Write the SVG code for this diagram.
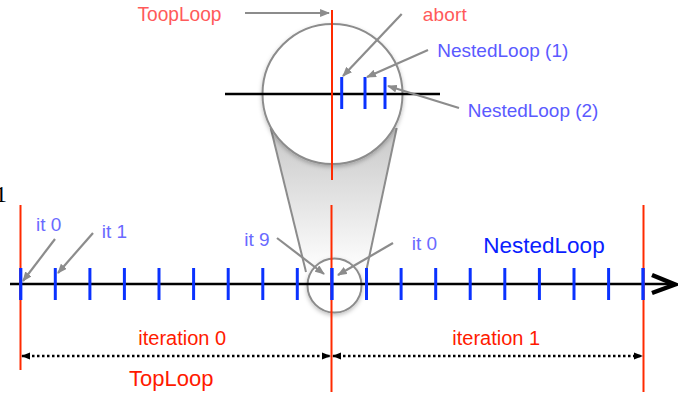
<svg xmlns="http://www.w3.org/2000/svg" width="678" height="394" viewBox="0 0 678 394">
<style>
  .red { stroke: #ff2a00; stroke-width: 2; fill: none; }
  .tick { stroke: #0a32ff; stroke-width: 3; }
  .axis { stroke: #000; stroke-width: 2.5; fill: none; }
  .garrow { stroke: #8c8c8c; stroke-width: 2.2; fill: none; marker-end: url(#gh); }
  .darrow { stroke: #000; stroke-width: 2.5; stroke-dasharray: 2.5 2.5; fill: none; marker-start: url(#bh); marker-end: url(#bh); }
  .lbl { font-family: "Liberation Sans", Arial, sans-serif; }
  .lr { fill: #ff5a5a; font-size: 19px; }
  .lb { fill: #5a5aff; font-size: 19px; }
  .it { fill: #6a6aff; font-size: 19px; }
  .big-red { fill: #ff1a00; font-size: 20px; }
</style>
<defs>
  <marker id="gh" viewBox="0 0 10 8" refX="9" refY="4" markerWidth="4.5" markerHeight="3.6" orient="auto" markerUnits="strokeWidth">
    <path d="M0,0 L10,4 L0,8 z" fill="#8c8c8c"/>
  </marker>
  <marker id="bh" viewBox="0 0 10 8" refX="9" refY="4" markerWidth="3.6" markerHeight="3.0" orient="auto-start-reverse" markerUnits="strokeWidth">
    <path d="M0,0 L10,4 L0,8 z" fill="#000"/>
  </marker>
  <linearGradient id="cone" x1="0" y1="0" x2="0" y2="1">
    <stop offset="0" stop-color="#c8c8c8"/>
    <stop offset="1" stop-color="#ffffff"/>
  </linearGradient>
  <filter id="sh" x="-20%" y="-20%" width="140%" height="140%">
    <feDropShadow dx="0" dy="2" stdDeviation="2" flood-color="#000" flood-opacity="0.25"/>
  </filter>
</defs>

<rect width="678" height="394" fill="#fff"/>

<text x="-5" y="201.5" style="font-family:'Liberation Serif',serif;font-size:24px;fill:#000">1</text>

<g id="magnifier">
  <path d="M270.7,128 L306,272 L366,272 L396.7,128 Z" fill="url(#cone)"/>
  <line x1="270.7" y1="128" x2="306" y2="272" stroke="#8c8c8c" stroke-width="2"/>
  <line x1="396.7" y1="128" x2="366" y2="272" stroke="#8c8c8c" stroke-width="2"/>
</g>

<g id="small-circle">
  <circle cx="334.5" cy="285.5" r="27" fill="#fff" stroke="#8c8c8c" stroke-width="2" filter="url(#sh)"/>
</g>

<g id="timeline">
  <line class="axis" x1="10" y1="284" x2="674" y2="284"/>
  <polyline points="652,275 675,284.5 652,293" fill="none" stroke="#000" stroke-width="4.5" stroke-linejoin="miter"/>
  <g class="tick">
    <line x1="20.7" y1="268" x2="20.7" y2="300"/>
    <line x1="55.3" y1="268" x2="55.3" y2="300"/>
    <line x1="89.9" y1="268" x2="89.9" y2="300"/>
    <line x1="124.4" y1="268" x2="124.4" y2="300"/>
    <line x1="159" y1="268" x2="159" y2="300"/>
    <line x1="193.6" y1="268" x2="193.6" y2="300"/>
    <line x1="228.2" y1="268" x2="228.2" y2="300"/>
    <line x1="262.8" y1="268" x2="262.8" y2="300"/>
    <line x1="297.3" y1="268" x2="297.3" y2="300"/>
    <line x1="331.9" y1="268" x2="331.9" y2="300"/>
    <line x1="366.5" y1="268" x2="366.5" y2="300"/>
    <line x1="401.1" y1="268" x2="401.1" y2="300"/>
    <line x1="435.7" y1="268" x2="435.7" y2="300"/>
    <line x1="470.2" y1="268" x2="470.2" y2="300"/>
    <line x1="504.8" y1="268" x2="504.8" y2="300"/>
    <line x1="539.4" y1="268" x2="539.4" y2="300"/>
    <line x1="574" y1="268" x2="574" y2="300"/>
    <line x1="608.6" y1="268" x2="608.6" y2="300"/>
    <line x1="643.1" y1="268" x2="643.1" y2="300"/>
  </g>
</g>

<g id="toploop-bounds">
  <line class="red" x1="20.5" y1="205" x2="20.5" y2="370"/>
  <line class="red" x1="331.5" y1="205" x2="331.5" y2="392"/>
  <line class="red" x1="643.5" y1="205" x2="643.5" y2="392"/>
  <line class="tick" x1="20.7" y1="268" x2="20.7" y2="300"/>
  <line class="tick" x1="331.9" y1="268" x2="331.9" y2="300"/>
  <line class="tick" x1="643.1" y1="268" x2="643.1" y2="300"/>
</g>

<g id="big-circle">
  <circle cx="332.5" cy="94" r="70" fill="#fff" stroke="#8c8c8c" stroke-width="2" filter="url(#sh)"/>
  <line class="axis" x1="225" y1="94" x2="440" y2="94"/>
  <line class="tick" x1="341.7" y1="77" x2="341.7" y2="109"/>
  <line class="tick" x1="365" y1="77" x2="365" y2="109"/>
  <line class="tick" x1="385" y1="77" x2="385" y2="109"/>
  <line class="red" x1="332" y1="10" x2="332" y2="180"/>
</g>

<g id="connectors">
  <line class="garrow" x1="245" y1="13" x2="329" y2="13"/>
  <line class="garrow" x1="401.7" y1="14" x2="343" y2="76"/>
  <line class="garrow" x1="428" y1="50" x2="367" y2="77"/>
  <line class="garrow" x1="459" y1="108" x2="388" y2="86"/>
  <line class="garrow" x1="55" y1="239" x2="23" y2="281"/>
  <line class="garrow" x1="93" y1="233" x2="58" y2="273"/>
  <line class="garrow" x1="277" y1="238" x2="324" y2="274"/>
  <line class="garrow" x1="393" y1="243" x2="338" y2="275"/>
  <line class="darrow" x1="22" y1="356" x2="330" y2="356"/>
  <line class="darrow" x1="333" y1="356" x2="642" y2="356"/>
</g>

<g id="labels" class="lbl">
  <text class="lr" x="137.5" y="21" textLength="84" lengthAdjust="spacingAndGlyphs" style="font-size:20px">ToopLoop</text>
  <text class="lr" x="422.7" y="21" textLength="44">abort</text>
  <text class="lb" x="437.3" y="57.3" textLength="131" lengthAdjust="spacingAndGlyphs">NestedLoop (1)</text>
  <text class="lb" x="467.7" y="116.7" textLength="130.7" lengthAdjust="spacingAndGlyphs">NestedLoop (2)</text>
  <text class="it" x="36" y="231">it 0</text>
  <text class="it" x="101.7" y="238.3">it 1</text>
  <text class="it" x="244.3" y="245.7">it 9</text>
  <text class="it" x="411.7" y="250">it 0</text>
  <text x="483.3" y="253" style="fill:#0a1eff;font-size:22.5px">NestedLoop</text>
  <text class="big-red" x="138.3" y="345">iteration 0</text>
  <text class="big-red" x="452.3" y="345">iteration 1</text>
  <text x="129" y="386" style="fill:#ff1a00;font-size:22px">TopLoop</text>
</g>
</svg>
